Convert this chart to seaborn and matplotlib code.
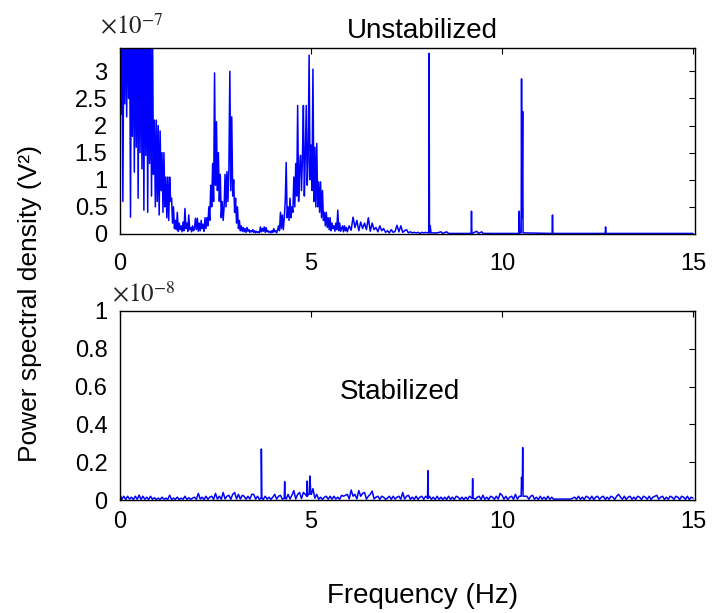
import numpy as np
import pandas as pd
import matplotlib
matplotlib.use("Agg")
import matplotlib.pyplot as plt
import seaborn as sns


# %% data - PSD values (top in 1e-7 V^2, bottom in 1e-8 V^2)

# unstabilized, fine bins 0.000 .. 6.000 Hz every 0.025 Hz
top_fine_step = 0.025
top_fine = [
    4.5, 2.2, 4.2, 0.6, 3.8, 2.4, 4.4, 2.16, 4.6, 2.5,
    4.3, 0.31, 4.5, 1.8, 4.6, 1.14, 4.4, 1.6, 4.7, 0.66,
    4.5, 1.5, 4.2, 1.2, 4.6, 0.44, 4.3, 1.45, 4.5, 0.4,
    4.2, 1.3, 3.8, 0.7, 4.0, 1.1, 2.1, 0.5, 2.1, 0.6,
    2.0, 0.35, 1.9, 0.8, 1.5, 0.4, 1.5, 0.5, 1.05, 0.3,
    1.05, 0.25, 1.05, 0.6, 0.66, 0.2, 0.5, 0.1, 0.25, 0.08,
    0.4, 0.05, 0.2, 0.08, 0.15, 0.04, 0.22, 0.06, 0.47, 0.1,
    0.2, 0.05, 0.35, 0.08, 0.12, 0.04, 0.15, 0.06, 0.1, 0.29,
    0.08, 0.29, 0.05, 0.2, 0.06, 0.25, 0.1, 0.18, 0.05, 0.3,
    0.1, 0.3, 0.15, 0.5, 0.25, 0.9, 0.5, 1.3, 0.6, 2.97,
    0.9, 2.07, 0.8, 1.5, 0.6, 1.1, 0.3, 0.6, 0.25, 0.5,
    1.1, 0.5, 1.15, 0.6, 1.2, 3.0, 0.8, 2.16, 0.7, 1.0,
    0.4, 0.66, 0.2, 0.5, 0.1, 0.25, 0.06, 0.15, 0.05, 0.12,
    0.04, 0.1, 0.03, 0.12, 0.05, 0.08, 0.03, 0.06, 0.04, 0.08,
    0.03, 0.06, 0.02, 0.05, 0.03, 0.04, 0.02, 0.13, 0.04, 0.1,
    0.05, 0.13, 0.03, 0.12, 0.04, 0.06, 0.03, 0.05, 0.02, 0.06,
    0.03, 0.1, 0.04, 0.06, 0.02, 0.08, 0.15, 0.06, 0.4, 0.1,
    0.35, 0.08, 0.3, 0.6, 1.32, 0.3, 0.5, 0.25, 0.66, 0.3,
    0.5, 0.4, 1.05, 0.5, 1.3, 0.7, 2.37, 0.6, 1.2, 1.45,
    0.8, 1.4, 2.37, 0.7, 1.45, 2.37, 0.9, 1.4, 3.3, 1.0,
    1.64, 0.8, 3.04, 0.6, 1.6, 0.5, 1.67, 0.5, 0.96, 0.4,
    0.96, 0.3, 0.8, 0.25, 0.4, 0.15, 0.4, 0.12, 0.3, 0.08,
    0.3, 0.06, 0.2, 0.1, 0.15, 0.05, 0.2, 0.08, 0.44, 0.06,
    0.2, 0.05, 0.1, 0.15, 0.04, 0.15, 0.06, 0.12, 0.04, 0.1,
    0.15,
]

# unstabilized, coarse bins 6.05 .. 8.00 Hz every 0.05 Hz
top_coarse_start = 6.05
top_coarse_step = 0.05
top_coarse = [
    0.07, 0.31, 0.12, 0.25, 0.06, 0.22, 0.1, 0.2, 0.08,
    0.3, 0.05, 0.2, 0.08, 0.12, 0.04, 0.15, 0.06, 0.1, 0.03,
    0.06, 0.02, 0.08, 0.03, 0.05, 0.16, 0.04, 0.15, 0.03, 0.06,
    0.08, 0.02, 0.04, 0.02, 0.03, 0.02, 0.03, 0.01, 0.03, 0.02,
    0.03,
]

# unstabilized, quiet part above 8 Hz (spikes with their feet)
top_tail_freq = [8.05, 8.08, 8.09, 8.10, 8.12, 8.14, 8.30, 8.40, 8.45, 8.55,
                 8.60, 9.19, 9.20, 9.21, 9.34, 9.38, 9.47, 9.50, 10.44, 10.45,
                 10.46, 10.50, 10.51, 10.52, 10.54, 10.55, 11.31, 11.32, 11.33,
                 12.70, 12.71, 12.72, 15.0]
top_tail_vals = [0.02, 0.02, 3.33, 0.02, 0.15, 0.02, 0.02, 0.04, 0.01, 0.04,
                 0.01, 0.01, 0.42, 0.01, 0.05, 0.01, 0.04, 0.01, 0.01, 0.42,
                 0.02, 0.02, 2.86, 0.3, 2.26, 0.02, 0.01, 0.35, 0.01,
                 0.01, 0.13, 0.01, 0.01]

# stabilized, noise floor bins 0.00 .. 15.00 Hz every 0.05 Hz
bottom_step = 0.05
bottom_bins = [
    0.03, 0.004, 0.02, 0.003, 0.02, 0.005, 0.015, 0.003, 0.02, 0.004,
    0.026, 0.003, 0.02, 0.004, 0.015, 0.003, 0.02, 0.004, 0.012, 0.003,
    0.01, 0.003, 0.015, 0.004, 0.01, 0.003, 0.025, 0.003, 0.01, 0.004,
    0.015, 0.003, 0.01, 0.004, 0.02, 0.003, 0.012, 0.004, 0.01, 0.015,
    0.004, 0.035, 0.005, 0.015, 0.003, 0.02, 0.004, 0.015, 0.02, 0.004,
    0.035, 0.005, 0.02, 0.004, 0.04, 0.006, 0.02, 0.025, 0.004, 0.03,
    0.04, 0.006, 0.03, 0.005, 0.025, 0.02, 0.004, 0.02, 0.005, 0.03,
    0.03, 0.005, 0.02, 0.004, 0.01, 0.004, 0.02, 0.005, 0.015, 0.004,
    0.015, 0.03, 0.005, 0.02, 0.025, 0.004, 0.01, 0.005, 0.03, 0.006,
    0.025, 0.05, 0.006, 0.03, 0.04, 0.008, 0.04, 0.03, 0.02, 0.03,
    0.03, 0.06, 0.01, 0.03, 0.004, 0.015, 0.003, 0.015, 0.02, 0.004,
    0.02, 0.004, 0.02, 0.005, 0.015, 0.004, 0.025, 0.02, 0.025, 0.03,
    0.006, 0.053, 0.02, 0.03, 0.006, 0.05, 0.02, 0.035, 0.04, 0.005,
    0.02, 0.03, 0.047, 0.006, 0.015, 0.02, 0.004, 0.02, 0.015, 0.004,
    0.01, 0.02, 0.004, 0.02, 0.005, 0.015, 0.02, 0.004, 0.04, 0.005,
    0.02, 0.025, 0.004, 0.015, 0.004, 0.02, 0.004, 0.015, 0.02, 0.004,
    0.02, 0.01, 0.02, 0.004, 0.015, 0.003, 0.02, 0.004, 0.015, 0.003,
    0.015, 0.003, 0.02, 0.004, 0.015, 0.003, 0.02, 0.015, 0.003, 0.015,
    0.003, 0.015, 0.004, 0.02, 0.01, 0.01, 0.004, 0.015, 0.02, 0.003,
    0.025, 0.004, 0.015, 0.003, 0.02, 0.015, 0.004, 0.02, 0.005, 0.035,
    0.025, 0.004, 0.02, 0.003, 0.015, 0.02, 0.004, 0.03, 0.005, 0.02,
    0.02, 0.02, 0.02, 0.02, 0.004, 0.02, 0.025, 0.004, 0.015, 0.003,
    0.02, 0.004, 0.015, 0.003, 0.02, 0.004, 0.015, 0.004, 0.005, 0.005,
    0.005, 0.005, 0.005, 0.005, 0.005, 0.005, 0.005, 0.01, 0.015, 0.004,
    0.02, 0.004, 0.015, 0.003, 0.02, 0.015, 0.004, 0.02, 0.003, 0.015,
    0.02, 0.004, 0.015, 0.02, 0.003, 0.015, 0.004, 0.02, 0.015, 0.003,
    0.02, 0.03, 0.015, 0.004, 0.02, 0.003, 0.015, 0.02, 0.004, 0.015,
    0.004, 0.02, 0.015, 0.003, 0.02, 0.015, 0.004, 0.02, 0.003, 0.015,
    0.02, 0.025, 0.004, 0.015, 0.02, 0.003, 0.015, 0.004, 0.02, 0.015,
    0.004, 0.02, 0.015, 0.003, 0.02, 0.015, 0.004, 0.02, 0.003, 0.015,
    0.01,
]

# stabilized, narrow spikes (with their feet)
bottom_spike_freq = [3.69, 3.70, 3.71, 4.30, 4.31, 4.32, 4.89, 4.90, 4.93, 4.97,
                     4.99, 5.01, 8.05, 8.06, 8.07, 9.22, 9.23, 9.24, 10.49, 10.51,
                     10.53, 10.54, 10.56]
bottom_spike_vals = [0.01, 0.27, 0.01, 0.01, 0.097, 0.01, 0.02, 0.1, 0.03, 0.127,
                     0.05, 0.03, 0.01, 0.155, 0.01, 0.01, 0.113, 0.01, 0.02, 0.12,
                     0.06, 0.277, 0.02]

x_ticks = [0, 5, 10, 15]
top_yticks = [0, 0.5, 1, 1.5, 2, 2.5, 3]
bottom_yticks = [0, 0.2, 0.4, 0.6, 0.8, 1]


# %% build frames
top_df = pd.DataFrame({
    'freq': np.concatenate([np.arange(len(top_fine)) * top_fine_step,
                            top_coarse_start + np.arange(len(top_coarse)) * top_coarse_step,
                            top_tail_freq]),
    'psd': np.concatenate([top_fine, top_coarse, top_tail_vals]),
})
bottom_df = pd.DataFrame({
    'freq': np.concatenate([np.arange(len(bottom_bins)) * bottom_step, bottom_spike_freq]),
    'psd': np.concatenate([bottom_bins, bottom_spike_vals]),
}).sort_values('freq')


# %% plot
sns.set_style("white")
plt.rcParams['font.family'] = ['Liberation Sans', 'DejaVu Sans']
plt.rcParams['mathtext.fontset'] = 'stix'
plt.rcParams['text.color'] = 'black'

fig = plt.figure(figsize = (7.22, 6.13), dpi = 100)
ax1 = fig.add_axes([0.1662, 0.6183, 0.7964, 0.3034])
ax2 = fig.add_axes([0.1662, 0.1843, 0.7964, 0.3084])

sns.lineplot(x = 'freq', y = 'psd', data = top_df, ax = ax1, color = '#0000ff',
             linewidth = 1.1, estimator = None, sort = False)
sns.lineplot(x = 'freq', y = 'psd', data = bottom_df, ax = ax2, color = '#0000ff',
             linewidth = 1.1, estimator = None, sort = False)

for ax, yt in [(ax1, top_yticks), (ax2, bottom_yticks)]:
    ax.set_xlim(0, 15.05)
    ax.set_xticks(x_ticks)
    ax.set_yticks(yt)
    ax.set_yticklabels(['%g' % v for v in yt])
    ax.set_xlabel('')
    ax.set_ylabel('')
    ax.tick_params(direction = 'in', top = True, right = True, length = 4, width = 0.8,
                   labelsize = 17, colors = 'black')
    ax.tick_params(axis = 'y', pad = 9)
    for s in ax.spines.values():
        s.set_color('black')
        s.set_linewidth(1.0)

ax1.set_ylim(0, 3.43)
ax2.set_ylim(0, 1.0)
ax1.tick_params(axis = 'x', pad = 14)
ax2.tick_params(axis = 'x', pad = 8)

fig.text(100 / 722, 1 - 34 / 613, r'$\times10^{-7}$', fontsize = 18, va = 'baseline', color = '#222222')
fig.text(112 / 722, 1 - 302 / 613, r'$\times10^{-8}$', fontsize = 18, va = 'baseline', color = '#222222')
fig.text(422 / 722, 1 - 31 / 613, 'Unstabilized', fontsize = 20, ha = 'center', va = 'center')
ax2.text(7.33, 0.57, 'Stabilized', fontsize = 20, ha = 'center', va = 'center')
fig.text(30 / 722, 1 - 303 / 613, 'Power spectral density (V²)', fontsize = 19,
         rotation = 90, ha = 'center', va = 'center')
fig.text(423 / 722, 1 - 596 / 613, 'Frequency (Hz)', fontsize = 20, ha = 'center', va = 'center')

plt.savefig('out.png', dpi = 100)
